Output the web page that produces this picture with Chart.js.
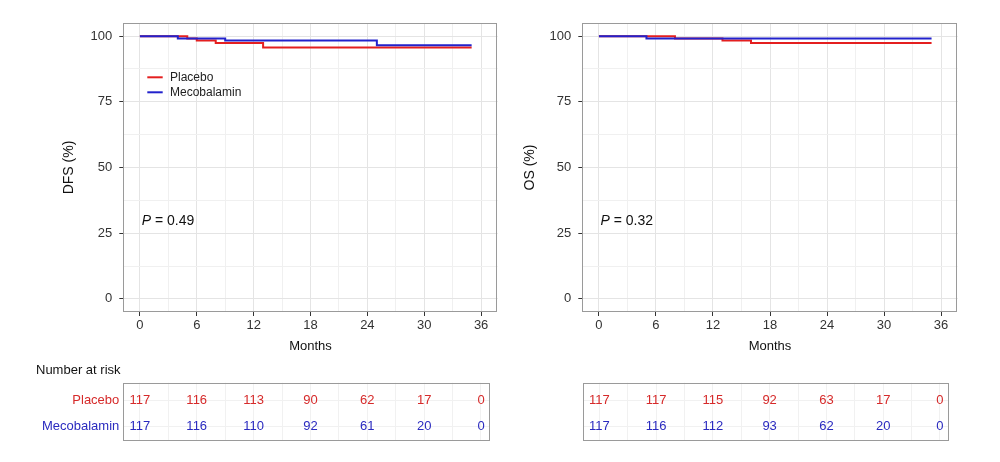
<!DOCTYPE html>
<html><head><meta charset="utf-8">
<script src="https://cdn.jsdelivr.net/npm/chart.js@4/dist/chart.umd.min.js"></script>
<style>
html,body{margin:0;padding:0;background:#fff;}
#wrap{position:relative;width:1000px;height:462px;overflow:hidden;}
canvas{position:absolute;display:block;}
</style></head><body>
<div id="wrap">
<canvas id="dfs" width="500" height="362" style="left:0;top:0;width:500px;height:362px"></canvas>
<canvas id="os" width="500" height="362" style="left:500px;top:0;width:500px;height:362px"></canvas>
<canvas id="dfsRisk" width="500" height="100" style="left:0;top:362px;width:500px;height:100px"></canvas>
<canvas id="osRisk" width="500" height="100" style="left:500px;top:362px;width:500px;height:100px"></canvas>
</div>
<script>
// ---------- data ----------
const groups = ['Placebo', 'Mecobalamin'];
const monthTicks = [0, 6, 12, 18, 24, 30, 36];
const survTicks = [0, 25, 50, 75, 100];

const dfsPlaceboTime = [0, 5, 6, 8, 13, 35];
const dfsPlaceboSurv = [100, 99.1, 98.3, 97.4, 95.7, 95.7];
const dfsMecoTime = [0, 4, 9, 25, 35];
const dfsMecoSurv = [100, 99.1, 98.3, 96.5, 96.5];

const osPlaceboTime = [0, 8, 13, 16, 35];
const osPlaceboSurv = [100, 99.1, 98.3, 97.4, 97.4];
const osMecoTime = [0, 5, 35];
const osMecoSurv = [100, 99.1, 99.1];

const riskTimes = [0, 6, 12, 18, 24, 30, 36];
const dfsRiskPlacebo = [117, 116, 113, 90, 62, 17, 0];
const dfsRiskMeco = [117, 116, 110, 92, 61, 20, 0];
const osRiskPlacebo = [117, 117, 115, 92, 63, 17, 0];
const osRiskMeco = [117, 116, 112, 93, 62, 20, 0];

const dfsP = '0.49';
const osP = '0.32';

// ---------- styling ----------
const FAM = "'Liberation Sans', Arial, Helvetica, sans-serif";
const LINE = ['#e41f1f', '#2222cc'];
const TEXT = ['#d62a2a', '#2a2abf'];
Chart.defaults.font.family = FAM;
Chart.defaults.color = '#333';

const minorOf = arr => {
  const out = [];
  arr.forEach((v, i) => { out.push(v); if (i < arr.length - 1) out.push((v + arr[i + 1]) / 2); });
  return out;
};

const framePlugin = {
  id: 'frame',
  afterDraw(chart, args, o) {
    const {ctx, chartArea: a} = chart;
    ctx.save();
    ctx.strokeStyle = o.color || '#999';
    ctx.lineWidth = 1;
    ctx.strokeRect(Math.round(a.left) + 0.5, Math.round(a.top) + 0.5, Math.round(a.width) - 1, Math.round(a.height) - 1);
    ctx.restore();
  }
};

const notesPlugin = {
  id: 'notes',
  afterDraw(chart, args, o) {
    const ctx = chart.ctx;
    ctx.save();
    if (o.legend) {
      const L = o.legend;
      chart.data.datasets.forEach((ds, i) => {
        const y = L.y + i * L.dy;
        ctx.strokeStyle = ds.borderColor;
        ctx.lineWidth = 2;
        ctx.beginPath(); ctx.moveTo(L.x, y); ctx.lineTo(L.x + L.len, y); ctx.stroke();
        ctx.fillStyle = '#222';
        ctx.font = '12px ' + FAM;
        ctx.textAlign = 'left'; ctx.textBaseline = 'middle';
        ctx.fillText(ds.label, L.textX, y);
      });
    }
    if (o.pval) {
      ctx.fillStyle = '#111';
      ctx.textAlign = 'left'; ctx.textBaseline = 'middle';
      ctx.font = 'italic 14px ' + FAM;
      ctx.fillText('P', o.pval.x, o.pval.y);
      const w = ctx.measureText('P').width;
      ctx.font = '14px ' + FAM;
      ctx.fillText(' = ' + o.pval.text, o.pval.x + w, o.pval.y);
    }
    if (o.heading) {
      ctx.fillStyle = '#111';
      ctx.font = '13px ' + FAM;
      ctx.textAlign = 'left'; ctx.textBaseline = 'middle';
      ctx.fillText(o.heading.text, o.heading.x, o.heading.y);
    }
    if (o.counts) {
      chart.data.datasets.forEach((ds, i) => {
        const meta = chart.getDatasetMeta(i);
        ctx.fillStyle = ds.textColor;
        ctx.font = '13px ' + FAM;
        ctx.textAlign = 'center'; ctx.textBaseline = 'middle';
        meta.data.forEach((pt, j) => ctx.fillText(String(ds.counts[j]), pt.x, pt.y));
      });
    }
    ctx.restore();
  }
};

function makePlot(id, yTitle, titlePad, series, yWidth, padRight, notes) {
  const xAll = minorOf(monthTicks);
  const yAll = minorOf(survTicks);
  new Chart(document.getElementById(id), {
    type: 'line',
    data: {
      datasets: series.map((s, i) => ({
        label: groups[i],
        data: s.t.map((t, k) => ({x: t, y: s.s[k]})),
        borderColor: LINE[i],
        borderWidth: 2,
        pointRadius: 0,
        stepped: true,
        fill: false,
        order: series.length - 1 - i
      }))
    },
    options: {
      responsive: false, animation: false, events: [],
      layout: {padding: {left: 0, right: padRight, top: 23, bottom: 0}},
      plugins: {legend: {display: false}, tooltip: {enabled: false}, frame: {color: '#9a9a9a'}, notes: notes},
      scales: {
        x: {
          type: 'linear', min: -1.75, max: 37.75,
          afterBuildTicks: s => { s.ticks = xAll.map(v => ({value: v})); },
          ticks: {callback: v => monthTicks.includes(v) ? String(v) : '', font: {size: 13}, color: '#333', padding: 2, maxRotation: 0, autoSkip: false},
          grid: {color: c => monthTicks.includes(c.tick && c.tick.value) ? '#e4e4e4' : '#f0f0f0',
                 tickColor: c => monthTicks.includes(c.tick && c.tick.value) ? '#333' : 'rgba(0,0,0,0)', tickLength: 4},
          border: {display: false},
          title: {display: true, text: 'Months', font: {size: 13}, color: '#111', padding: {top: 0, bottom: 7.5}},
          afterFit: s => { s.height = 50; }
        },
        y: {
          type: 'linear', min: -5, max: 105,
          afterBuildTicks: s => { s.ticks = yAll.map(v => ({value: v})); },
          ticks: {callback: v => survTicks.includes(v) ? String(v) : '', font: {size: 13}, color: '#333', padding: 7, autoSkip: false},
          grid: {color: c => survTicks.includes(c.tick && c.tick.value) ? '#e4e4e4' : '#f0f0f0',
                 tickColor: c => survTicks.includes(c.tick && c.tick.value) ? '#333' : 'rgba(0,0,0,0)', tickLength: 4},
          border: {display: false},
          title: {display: true, text: yTitle, font: {size: 14}, color: '#111', padding: {top: titlePad, bottom: 0}},
          afterFit: s => { s.width = yWidth; }
        }
      }
    },
    plugins: [framePlugin, notesPlugin]
  });
}

function makeTable(id, counts, yWidth, padRight, xMax, showLabels, heading) {
  const xAll = minorOf(monthTicks);
  new Chart(document.getElementById(id), {
    type: 'scatter',
    data: {
      datasets: groups.map((g, i) => ({
        label: g,
        data: riskTimes.map(t => ({x: t, y: i + 1})),
        counts: counts[i],
        textColor: TEXT[i],
        pointRadius: 0
      }))
    },
    options: {
      responsive: false, animation: false, events: [],
      layout: {padding: {left: 0, right: padRight, top: 20.7, bottom: 21.3}},
      plugins: {legend: {display: false}, tooltip: {enabled: false}, frame: {color: '#9a9a9a'},
                notes: {counts: true, heading: heading}},
      scales: {
        x: {
          type: 'linear', min: -1.75, max: xMax,
          afterBuildTicks: s => { s.ticks = xAll.map(v => ({value: v})); },
          ticks: {display: false},
          grid: {color: '#f1f1f1', drawTicks: false},
          border: {display: false},
          afterFit: s => { s.height = 0; }
        },
        y: {
          type: 'linear', reverse: true, min: 0.35, max: 2.52,
          afterBuildTicks: s => { s.ticks = groups.map((g, i) => ({value: i + 1})); },
          ticks: {display: showLabels, callback: v => groups[v - 1], color: c => TEXT[c.index], font: {size: 13}, padding: 4},
          grid: {color: '#f1f1f1', drawTicks: false},
          border: {display: false},
          afterFit: s => { s.width = yWidth; }
        }
      }
    },
    plugins: [framePlugin, notesPlugin]
  });
}

makePlot('dfs', 'DFS (%)', 60.6,
  [{t: dfsPlaceboTime, s: dfsPlaceboSurv}, {t: dfsMecoTime, s: dfsMecoSurv}],
  123.3, 2.3,
  {legend: {x: 147.3, y: 77.3, dy: 15, len: 15.4, textX: 170}, pval: {x: 141.7, y: 221, text: dfsP}});

makePlot('os', 'OS (%)', 21.6,
  [{t: osPlaceboTime, s: osPlaceboSurv}, {t: osMecoTime, s: osMecoSurv}],
  82.3, 42.3,
  {pval: {x: 100.5, y: 221, text: osP}});

makeTable('dfsRisk', [dfsRiskPlacebo, dfsRiskMeco], 123.3, 10, 36.95, true, {text: 'Number at risk', x: 36, y: 8.7});
makeTable('osRisk', [osRiskPlacebo, osRiskMeco], 82.7, 51.7, 36.88, false, null);
</script>
</body></html>
